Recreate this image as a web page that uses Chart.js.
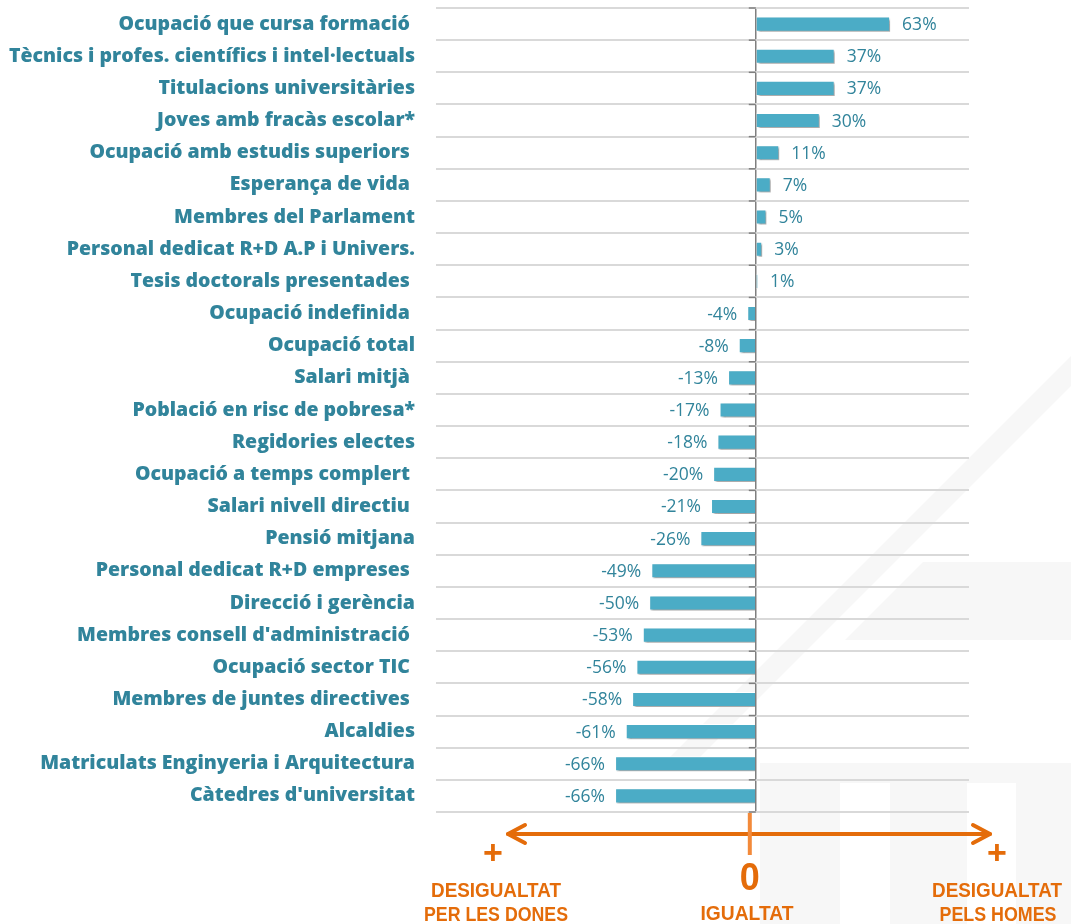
<!DOCTYPE html>
<html>
<head>
<meta charset="utf-8">
<script src="https://cdn.jsdelivr.net/npm/chart.js@4.4.1/dist/chart.umd.min.js"></script>
<style>
  html, body { margin: 0; padding: 0; background: #fff; }
  #wrap { width: 1071px; height: 924px; position: relative; }
</style>
</head>
<body>
<div id="wrap"><canvas id="chart"></canvas></div>
<script>
// categories (top to bottom) and the gap values in %
const categories = [
    'Ocupació que cursa formació ',
    'Tècnics i profes. científics i intel·lectuals',
    'Titulacions universitàries',
    'Joves amb fracàs escolar*',
    'Ocupació amb estudis superiors ',
    'Esperança de vida ',
    'Membres del Parlament',
    'Personal dedicat R+D A.P i Univers.',
    'Tesis doctorals presentades ',
    'Ocupació indefinida ',
    'Ocupació total',
    'Salari mitjà ',
    'Població en risc de pobresa*',
    'Regidories electes',
    'Ocupació a temps complert ',
    'Salari nivell directiu ',
    'Pensió mitjana',
    'Personal dedicat R+D empreses ',
    'Direcció i gerència',
    "Membres consell d'administració ",
    'Ocupació sector TIC ',
    'Membres de juntes directives ',
    'Alcaldies',
    'Matriculats Enginyeria i Arquitectura',
    "Càtedres d'universitat"
];
const gapValues = [63, 37, 37, 30, 11, 7, 5, 3, 1, -4, -8, -13, -17, -18, -20, -21, -26, -49, -50, -53, -56, -58, -61, -66, -66];

const xMin = -150;
const xMax = 100;

const teal = '#31849b';
const barColor = '#4bacc6';
const orange = '#e46c0a';

// faint logo in the background
const watermark = {
    id: 'watermark',
    beforeDraw(chart) {
        const c = chart.ctx;
        c.save();
        c.fillStyle = '#f7f7f7';
        c.beginPath();
        c.moveTo(1071, 356);
        c.lineTo(1071, 386);
        c.lineTo(700, 757);
        c.lineTo(670, 757);
        c.closePath();
        c.fill();
        c.beginPath();
        c.moveTo(923, 562);
        c.lineTo(1071, 562);
        c.lineTo(1071, 640);
        c.lineTo(845, 640);
        c.closePath();
        c.fill();
        c.fillRect(760, 763, 311, 161);
        c.fillStyle = '#ffffff';
        c.fillRect(840, 783, 50, 141);
        c.fillRect(967, 783, 49, 141);
        c.restore();
    }
};

// shadow under bars
const barShadow = {
    id: 'barShadow',
    beforeDatasetDraw(chart) {
        const c = chart.ctx;
        c.save();
        c.shadowColor = 'rgba(0,0,0,0.35)';
        c.shadowOffsetX = 2;
        c.shadowOffsetY = 2;
        c.shadowBlur = 2;
    },
    afterDatasetDraw(chart) {
        chart.ctx.restore();
    }
};

// value labels + small ticks on the zero axis
const valueLabels = {
    id: 'valueLabels',
    afterDatasetsDraw(chart) {
        const c = chart.ctx;
        const meta = chart.getDatasetMeta(0);
        const xs = chart.scales.x;
        const ys = chart.scales.y;
        const x0 = xs.getPixelForValue(0);
        c.save();
        c.font = '17.5px "Open Sans", sans-serif';
        c.fillStyle = teal;
        c.textBaseline = 'middle';
        meta.data.forEach((bar, i) => {
            const v = gapValues[i];
            const txt = v + '%';
            if (v >= 0) {
                c.textAlign = 'left';
                c.fillText(txt, bar.x + 12, bar.y + 1);
            } else {
                c.textAlign = 'right';
                c.fillText(txt, bar.x - 10, bar.y + 1);
            }
        });
        const step = ys.getPixelForValue(1) - ys.getPixelForValue(0);
        const first = ys.getPixelForValue(0) - step / 2;
        c.strokeStyle = '#7f7f7f';
        c.lineWidth = 1.5;
        for (let i = 0; i <= categories.length; i++) {
            const y = first + i * step;
            c.beginPath();
            c.moveTo(x0 - 7, y);
            c.lineTo(x0, y);
            c.stroke();
        }
        c.restore();
    }
};

// orange legend arrow below the chart
const bottomArrow = {
    id: 'bottomArrow',
    afterDraw(chart) {
        const c = chart.ctx;
        const x0 = chart.scales.x.getPixelForValue(0) - 6;
        const y = 834;
        c.save();
        c.strokeStyle = orange;
        c.lineCap = 'round';
        c.lineJoin = 'round';
        c.lineWidth = 4;
        c.beginPath();
        c.moveTo(508, y);
        c.lineTo(990, y);
        c.stroke();
        c.beginPath();
        c.moveTo(973, y - 9);
        c.lineTo(990, y);
        c.lineTo(973, y + 9);
        c.stroke();
        c.beginPath();
        c.moveTo(525, y - 9);
        c.lineTo(508, y);
        c.lineTo(525, y + 9);
        c.stroke();
        c.strokeStyle = '#f38a3a';
        c.lineCap = 'butt';
        c.beginPath();
        c.moveTo(x0, 813);
        c.lineTo(x0, 855);
        c.stroke();

        c.fillStyle = orange;
        c.textAlign = 'center';
        c.textBaseline = 'alphabetic';
        c.font = 'bold 34px "Liberation Sans", sans-serif';
        c.fillText('+', 493, 864);
        c.fillText('+', 997, 864);
        c.font = 'bold 38px "Liberation Sans", sans-serif';
        c.fillText('0', x0, 890, 20);
        c.font = 'bold 21px "Liberation Sans", sans-serif';
        c.fillText('DESIGUALTAT', 496, 897, 130);
        c.fillText('PER LES DONES', 496, 921, 144);
        c.fillText('IGUALTAT', 747, 920, 93);
        c.fillText('DESIGUALTAT', 997, 897, 130);
        c.fillText('PELS HOMES', 998, 921, 117);
        c.restore();
    }
};

const ctx = document.getElementById('chart').getContext('2d');
const myChart = new Chart(ctx, {
    type: 'bar',
    data: {
        labels: categories,
        datasets: [{
            data: gapValues,
            backgroundColor: barColor,
            borderColor: '#ffffff',
            borderWidth: 1,
            barPercentage: 0.47,
            categoryPercentage: 1
        }]
    },
    options: {
        indexAxis: 'y',
        responsive: true,
        maintainAspectRatio: false,
        animation: false,
        layout: {
            padding: { top: 8, bottom: 112, right: 102, left: 0 }
        },
        plugins: {
            legend: { display: false },
            tooltip: { enabled: false }
        },
        scales: {
            x: {
                min: xMin,
                max: xMax,
                ticks: { display: false, stepSize: 50 },
                grid: {
                    drawTicks: false,
                    lineWidth: 1.5,
                    color: c => (c.tick && c.tick.value === 0) ? '#7f7f7f' : 'transparent'
                },
                border: { display: false },
                afterFit: s => { s.height = 0; s.paddingLeft = 0; s.paddingRight = 0; }
            },
            y: {
                grid: {
                    drawTicks: false,
                    color: '#d9d9d9',
                    lineWidth: 2
                },
                border: { display: false },
                ticks: {
                    color: teal,
                    padding: 21,
                    font: { family: '"Open Sans", sans-serif', size: 19.5, weight: 800 },
                    autoSkip: false
                },
                afterFit: s => { s.width = 436; s.paddingTop = 0; s.paddingBottom = 0; }
            }
        }
    },
    plugins: [watermark, barShadow, valueLabels, bottomArrow]
});
</script>
</body>
</html>
